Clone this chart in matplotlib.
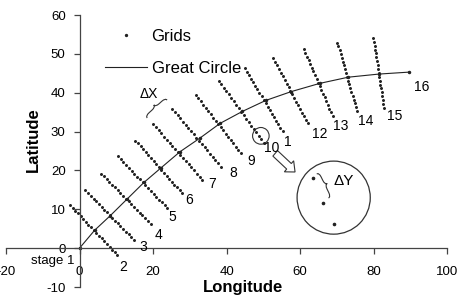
import numpy as np
import matplotlib
matplotlib.use("Agg")
import matplotlib.pyplot as plt
from matplotlib.patches import Ellipse, FancyArrow, PathPatch
from matplotlib.path import Path

plt.rcParams['font.family'] = ['Liberation Sans', 'DejaVu Sans']
plt.rcParams['axes.unicode_minus'] = False

# great circle path, one vertex per stage (1..16)
gc_lon = [0, 4.1, 8.4, 13.0, 17.5, 22.2, 27.3, 32.7, 38.2, 44.3, 50.6, 57.6, 65.3, 73.1, 81.4, 89.6]
gc_lat = [0, 4.6, 8.4, 12.7, 16.9, 20.7, 24.8, 28.3, 32.1, 35.2, 38.0, 40.3, 42.4, 44.0, 44.8, 45.3]

# grid lines for stages 2..15: top-left end and bottom-right end
grid_top_lon = [-2.6, 1.6, 5.9, 10.4, 15.2, 20.0, 25.2, 31.6, 37.9, 44.9, 52.6, 61.0, 70.1, 79.9]
grid_top_lat = [11.1, 14.9, 19.2, 23.6, 27.7, 31.9, 35.9, 39.4, 43.1, 46.3, 48.9, 51.2, 52.9, 54.1]
grid_bot_lon = [10.3, 14.8, 19.3, 23.9, 27.9, 33.4, 38.4, 43.8, 50.1, 55.2, 62.1, 68.8, 75.4, 82.8]
grid_bot_lat = [-1.8, 2.1, 6.3, 10.3, 14.1, 17.6, 21.0, 24.5, 27.1, 30.1, 32.1, 34.0, 35.3, 36.1]
n_dots = 19

# stage labels
stage_text = ['2', '3', '4', '5', '6', '7', '8', '9', '10', '1', '12', '13', '14', '15', '16']
stage_lon = [11.9, 17.4, 21.4, 25.1, 29.9, 36.1, 41.7, 46.7, 52.3, 56.5, 65.4, 70.9, 77.9, 85.6, 93.1]
stage_lat = [-4.9, 0.4, 3.4, 8.1, 12.4, 16.5, 19.4, 22.3, 25.8, 27.2, 29.5, 31.4, 32.8, 34.0, 41.4]

# zoomed-in detail: three grid points inside the big circle
zoom_lon = [63.5, 66.3, 69.1]
zoom_lat = [18.0, 11.7, 6.2]


def brace(ax, p1, p2, depth, q=0.18):
    p1 = np.asarray(p1, float)
    p2 = np.asarray(p2, float)
    d = p2 - p1
    L = np.hypot(*d)
    u = d / L
    n = np.array([-u[1], u[0]])
    h = depth
    qq = q * L
    local = [(0, 0), (0, h / 2), (qq, h / 2), (L / 2 - qq, h / 2), (L / 2, h / 2), (L / 2, h),
             (L / 2, h / 2), (L / 2 + qq, h / 2), (L - qq, h / 2), (L, h / 2), (L, 0)]
    codes = [Path.MOVETO, Path.CURVE3, Path.CURVE3, Path.LINETO, Path.CURVE3, Path.CURVE3,
             Path.CURVE3, Path.CURVE3, Path.LINETO, Path.CURVE3, Path.CURVE3]
    verts = [p1 + s * u + t * n for s, t in local]
    ax.add_patch(PathPatch(Path(verts, codes), fc='none', ec='#333', lw=0.8))


fig = plt.figure(figsize=(4.57, 3.0), dpi=100)
ax = fig.add_axes([0.0131, 0.0433, 0.9657, 0.9067])
ax.set_xlim(-20, 100)
ax.set_ylim(-10, 60)

ax.spines['left'].set_position(('data', 0))
ax.spines['bottom'].set_position(('data', 0))
ax.spines['top'].set_visible(False)
ax.spines['right'].set_visible(False)
for s in ['left', 'bottom']:
    ax.spines[s].set_color('#444')
    ax.spines[s].set_linewidth(0.9)
ax.set_xticks(range(-20, 101, 20))
ax.set_yticks(range(-10, 61, 10))
ax.tick_params(axis='x', direction='out', length=4, width=0.9, color='#444', labelsize=9.5, pad=8.5)
ax.tick_params(axis='y', direction='out', length=4, width=0.9, color='#444', labelsize=9.5, pad=6)

# grids
h_grid = None
for i in range(len(grid_top_lon)):
    lo = np.linspace(grid_top_lon[i], grid_bot_lon[i], n_dots)
    la = np.linspace(grid_top_lat[i], grid_bot_lat[i], n_dots)
    h, = ax.plot(lo, la, linestyle='none', marker='o', ms=1.15, color='#222')
    if h_grid is None:
        h_grid = h
h_grid.set_label('Grids')

# great circle
h_gc, = ax.plot(gc_lon, gc_lat, '-', color='#222', lw=0.8, label='Great Circle')
ax.plot(gc_lon, gc_lat, linestyle='none', marker='o', ms=1.5, color='#222')

for t, x, y in zip(stage_text, stage_lon, stage_lat):
    ax.text(x, y, t, fontsize=10, ha='center', va='center')
ax.text(-1.5, -3.3, 'stage 1', fontsize=9.5, ha='right', va='center')

# small circle + arrow to enlarged view
ax.add_patch(Ellipse((49.3, 28.9), 4.5, 4.3, fc='none', ec='#333', lw=0.8))
ax.add_patch(FancyArrow(53.2, 24.4, 5.4, -4.8, width=1.9, head_width=3.8, head_length=2.2,
                        length_includes_head=True, fc='white', ec='#333', lw=0.8))
ax.add_patch(Ellipse((69.1, 13.0), 19.9, 18.8, fc='none', ec='#333', lw=0.9))
ax.plot(zoom_lon, zoom_lat, linestyle='none', marker='o', ms=1.6, color='#222')

brace(ax, (18.4, 33.5), (23.8, 38.1), 1.4)
ax.text(18.7, 39.6, '\u0394X', fontsize=10, ha='center', va='center')
brace(ax, (64.5, 19.1), (67.7, 12.9), 1.4)
ax.text(69.1, 17.3, '\u0394Y', fontsize=11, ha='left', va='center')

ax.legend(handles=[h_grid, h_gc], loc='upper left', bbox_to_anchor=(0.224, 0.948),
          frameon=False, fontsize=12, borderpad=0, borderaxespad=0,
          handlelength=2.5, handletextpad=0.3, labelspacing=1.0, markerscale=1.2)

fig.text(0.074, 0.533, 'Latitude', rotation=90, fontsize=12, fontweight='bold',
         ha='center', va='center')
fig.text(0.532, 0.043, 'Longitude', fontsize=12, fontweight='bold', ha='center', va='center')

fig.savefig('out.png', dpi=100)
